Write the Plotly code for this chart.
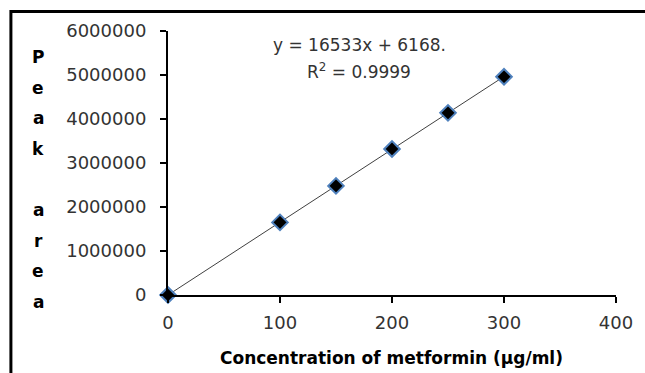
import numpy as np
import plotly.graph_objects as go

# Data
concentration = [0, 100, 150, 200, 250, 300]
peak_area = [0, 1650000, 2480000, 3320000, 4140000, 4960000]
x_ticks = [0, 100, 200, 300, 400]
y_ticks = [0, 1000000, 2000000, 3000000, 4000000, 5000000, 6000000]
equation_text = "y = 16533x + 6168."
r2_text = "R<sup>2</sup> = 0.9999"
x_title = "Concentration of metformin (µg/ml)"
y_title = "Peak area"

OFF = 0
W, H = 645, 373
# plot area in page pixels: x 168..620, y 31..295
L, T = 168 - OFF, 31 - OFF
R = W - (620 - OFF)
B = H - (295 - OFF)
pw, ph = W - L - R, H - T - B

def px_x(px):
    return (px - OFF - L) / pw

def px_y(py):
    return (H - B - (py - OFF)) / ph

slope, intercept = np.polyfit(concentration, peak_area, 1)
fit_x = np.array([min(concentration), max(concentration)])
fit_y = slope * fit_x + intercept

fig = go.Figure()
fig.add_trace(go.Scatter(x=fit_x, y=fit_y, mode="lines",
                         line=dict(color="#404040", width=1), hoverinfo="skip",
                         showlegend=False))
fig.add_trace(go.Scatter(x=concentration, y=peak_area, mode="markers",
                         marker=dict(symbol="diamond", size=12, color="black",
                                     line=dict(color="#4F81BD", width=2)),
                         cliponaxis=False, showlegend=False))

font = "DejaVu Sans"
fig.update_xaxes(range=[0, 400], tickvals=x_ticks, ticktext=[str(v) for v in x_ticks],
                 showline=True, linecolor="black", linewidth=2, ticks="outside",
                 ticklen=6, tickwidth=2, tickcolor="black", showgrid=False, zeroline=False,
                 tickfont=dict(family=font, size=18, color="#333"), ticklabelstandoff=4)
fig.update_yaxes(range=[0, 6000000], tickvals=y_ticks, ticktext=[str(v) for v in y_ticks],
                 showline=True, linecolor="black", linewidth=2, ticks="outside",
                 ticklen=6, tickwidth=2, tickcolor="black", showgrid=False, zeroline=False,
                 tickfont=dict(family=font, size=18, color="#333"), ticklabelstandoff=10)

annotations = [
    dict(x=px_x(361), y=px_y(45), text=equation_text, font=dict(family=font, size=17, color="#333")),
    dict(x=px_x(361), y=px_y(71), text=r2_text, font=dict(family=font, size=17, color="#333")),
    dict(x=px_x(393), y=px_y(358), text="<b>" + x_title + "</b>",
         font=dict(family=font, size=17, color="black")),
]
for i, ch in enumerate(y_title):
    if ch == " ":
        continue
    annotations.append(dict(x=px_x(37), y=px_y(57 + i * 30.6), text="<b>" + ch + "</b>",
                            font=dict(family=font, size=17, color="black")))
for a in annotations:
    a.update(xref="paper", yref="paper", showarrow=False, xanchor="center", yanchor="middle")

fig.update_layout(
    width=W, height=H, margin=dict(l=L, r=R, t=T, b=B),
    paper_bgcolor="white", plot_bgcolor="white",
    annotations=annotations,
    shapes=[
        dict(type="line", xref="paper", yref="paper",
             x0=px_x(9.5), x1=px_x(700), y0=px_y(11.5), y1=px_y(11.5),
             line=dict(color="black", width=3), layer="below"),
        dict(type="line", xref="paper", yref="paper",
             x0=px_x(9.5), x1=px_x(9.5), y0=px_y(10), y1=px_y(420),
             line=dict(color="black", width=3), layer="below"),
    ],
)

fig.write_html("out.html", config={"displayModeBar": False},
               post_script="document.body.style.margin='0';document.body.style.overflow='hidden';")
